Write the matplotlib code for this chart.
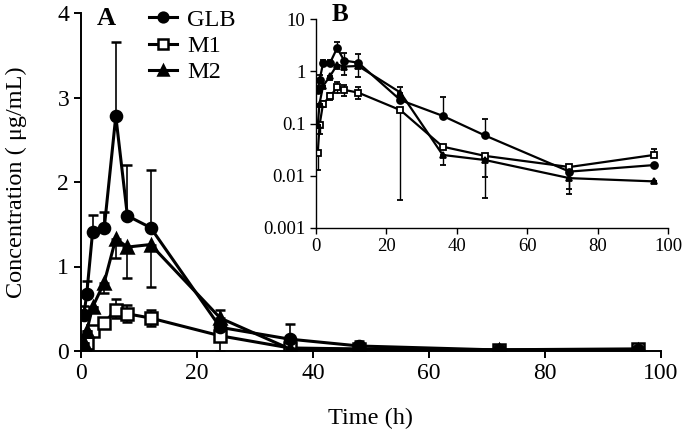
import matplotlib
matplotlib.use("Agg")
import matplotlib.pyplot as plt
from matplotlib.lines import Line2D

plt.rcParams['font.family'] = ['Liberation Serif', 'DejaVu Serif']

time = [0.5, 1, 2, 4, 6, 8, 12, 24, 36, 48, 72, 96]
glb = [0.43, 0.68, 1.41, 1.45, 2.78, 1.60, 1.46, 0.28, 0.14, 0.059, 0.012, 0.016]
m1 = [0.027, 0.092, 0.24, 0.33, 0.49, 0.44, 0.39, 0.18, 0.036, 0.024, 0.0147, 0.025]
m2 = [0.094, 0.24, 0.52, 0.81, 1.33, 1.23, 1.26, 0.39, 0.025, 0.020, 0.009, 0.0078]

glb_up = [0.10, 0.15, 0.20, 0.20, 0.88, 0.60, 0.68, 0.05, 0.18, 0.064, 0.0, 0.0]
glb_lo = [0, 0, 0, 0, 0, 0, 0, 0, 0, 0, 0.0063, 0]
m1_up = [0.0, 0.0, 0.03, 0.05, 0.12, 0.10, 0.10, 0.0, 0.0, 0.0, 0.0, 0.007]
m1_lo = [0.014, 0.03, 0.03, 0.05, 0.10, 0.10, 0.10, 0.1765, 0.0, 0.0203, 0.0, 0.0]
m2_up = [0.0, 0.0, 0.0, 0.0, 0.0, 0.0, 0.0, 0.10, 0.0, 0.0, 0.0, 0.0]
m2_lo = [0.0, 0.0, 0.0, 0.12, 0.23, 0.37, 0.50, 0.0, 0.009, 0.0107, 0.0045, 0.0]

names = ["GLB", "M1", "M2"]
series = [
    (names[0], glb, glb_lo, glb_up, 'o', 'black', 4),
    (names[1], m1, m1_lo, m1_up, 's', 'white', 2),
    (names[2], m2, m2_lo, m2_up, '^', 'black', 3),
]

W, H = 685, 433
fig = plt.figure(figsize=(W / 100, H / 100), dpi=100)

# Main axes (A)
ax = fig.add_axes([81 / W, 1 - 351 / H, (661 - 81) / W, (351 - 13) / H])
for name, y, lo, up, mk, fc, z in series:
    ax.errorbar(time, y, yerr=[lo, up], color='black', lw=2.2, marker=mk,
                markersize=8, markerfacecolor=fc, markeredgecolor='black',
                markeredgewidth=1.8, capsize=3.5, elinewidth=1.2, capthick=1.2,
                zorder=z)
ax.set_xlim(0, 100)
ax.set_ylim(0, 4)
ax.set_xticks([0, 20, 40, 60, 80, 100])
ax.set_yticks([0, 1, 2, 3, 4])
ax.spines['top'].set_visible(False)
ax.spines['right'].set_visible(False)
for s in ['left', 'bottom']:
    ax.spines[s].set_linewidth(1.4)
ax.tick_params(direction='out', length=5, width=1.4, labelsize=17)
ax.set_xlabel('Time (h)', fontsize=17.5, labelpad=17)
ax.set_ylabel('Concentration ( μg/mL)', fontsize=17.5, labelpad=22)
ax.text(0.028, 1.018, 'A', transform=ax.transAxes, fontsize=19,
        fontweight='bold', va='top', ha='left')
handles = [Line2D([], [], color='black', lw=2.2, marker=mk, markersize=7,
                  markerfacecolor=fc, markeredgecolor='black', markeredgewidth=1.8)
           for name, y, lo, up, mk, fc, z in series]
ax.legend(handles, names, loc='upper left', bbox_to_anchor=(0.118, 1.012),
          frameon=False, fontsize=17.5, handlelength=1.15, handletextpad=0.4,
          labelspacing=0.17, borderaxespad=0, borderpad=0)

# Inset axes (B)
axb = fig.add_axes([316 / W, 1 - 228 / H, (668 - 316) / W, (228 - 19) / H])
for name, y, lo, up, mk, fc, z in series:
    axb.errorbar(time, y, yerr=[lo, up], color='black', lw=1.6, marker=mk,
                 markersize=5, markerfacecolor=fc, markeredgecolor='black',
                 markeredgewidth=1.3, capsize=2.5, elinewidth=1.0, capthick=1.0,
                 zorder=z)
axb.set_yscale('log')
axb.set_xlim(0, 100)
axb.set_ylim(0.001, 10)
axb.set_xticks([0, 20, 40, 60, 80, 100])
axb.set_yticks([0.001, 0.01, 0.1, 1, 10])
axb.set_yticklabels(['0.001', '0.01', '0.1', '1', '10'])
axb.minorticks_off()
axb.spines['top'].set_visible(False)
axb.spines['right'].set_visible(False)
for s in ['left', 'bottom']:
    axb.spines[s].set_linewidth(1.0)
axb.tick_params(direction='out', length=4, width=1.0, labelsize=13.5)
axb.text(0.045, 1.075, 'B', transform=axb.transAxes, fontsize=18,
         fontweight='bold', va='top', ha='left')

fig.savefig('out.png', dpi=100)
